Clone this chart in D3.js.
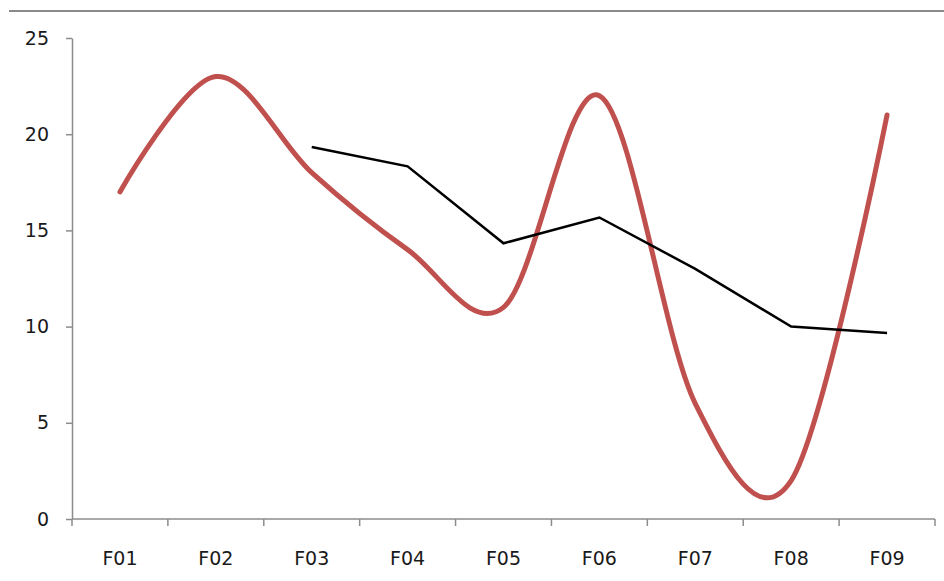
<!DOCTYPE html>
<html>
<head>
<meta charset="utf-8">
<script src="https://cdn.jsdelivr.net/npm/d3@7"></script>
<style>
  html, body { margin: 0; padding: 0; background: #fff; }
  svg { display: block; }
  .axis text { font-family: "DejaVu Sans", Verdana, sans-serif; font-size: 19px; fill: #1a1a1a; }
  .axis path, .axis line { stroke: #8c8c8c; stroke-width: 1.5; }
</style>
</head>
<body>
<svg id="chart" width="944" height="581"></svg>
<script>
const categories = ["F01", "F02", "F03", "F04", "F05", "F06", "F07", "F08", "F09"];
const actual = [17, 23, 18, 14, 11, 22, 6, 2, 21];
// three-period moving average, starting at F03
const movingAvg = [null, null, 19.33, 18.33, 14.33, 15.67, 13, 10, 9.67];
const yTicks = [0, 5, 10, 15, 20, 25];

const svg = d3.select("#chart");
const plotLeft = 72, plotRight = 935, plotTop = 38, plotBottom = 519;

// frame line across the top
svg.append("line")
  .attr("x1", 9).attr("x2", 944).attr("y1", 11).attr("y2", 11)
  .attr("stroke", "#8a8a8a").attr("stroke-width", 2);

const x = d3.scaleBand().domain(categories).range([plotLeft, plotRight]).padding(0);
const y = d3.scaleLinear().domain([0, 25]).range([plotBottom, plotTop]);

// y axis
svg.append("g").attr("class", "axis")
  .attr("transform", `translate(${plotLeft},0)`)
  .call(d3.axisLeft(y).tickValues(yTicks).tickSize(6).tickPadding(17).tickSizeOuter(0));

// x axis with ticks at category boundaries
const xAxis = svg.append("g").attr("class", "axis")
  .attr("transform", `translate(0,${plotBottom})`);
xAxis.append("line").attr("x1", plotLeft).attr("x2", plotRight).attr("y1", 0).attr("y2", 0);
const bounds = categories.map(c => x(c)).concat([plotRight]);
xAxis.selectAll("line.tick").data(bounds).join("line")
  .attr("class", "tick")
  .attr("x1", d => d).attr("x2", d => d).attr("y1", 0).attr("y2", 7);
xAxis.selectAll("text").data(categories).join("text")
  .attr("x", d => x(d) + x.bandwidth() / 2)
  .attr("y", 46)
  .attr("text-anchor", "middle")
  .text(d => d);

const cx = (d, i) => x(categories[i]) + x.bandwidth() / 2;

// smoothed actual series
svg.append("path")
  .datum(actual)
  .attr("fill", "none")
  .attr("stroke", "#c0504d")
  .attr("stroke-width", 5)
  .attr("stroke-linecap", "round")
  .attr("d", d3.line().x(cx).y(d => y(d)).curve(d3.curveCardinal.tension(0)));

// moving average
svg.append("path")
  .datum(movingAvg)
  .attr("fill", "none")
  .attr("stroke", "#000")
  .attr("stroke-width", 2.5)
  .attr("d", d3.line().defined(d => d != null).x(cx).y(d => y(d)));
</script>
</body>
</html>
